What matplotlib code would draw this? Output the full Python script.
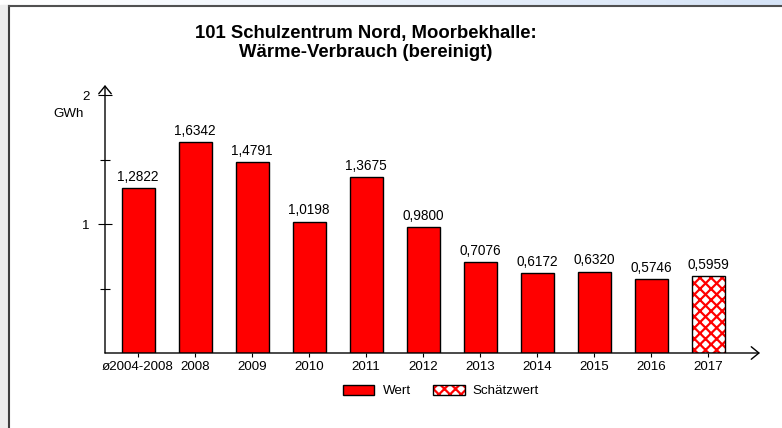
import numpy as np
import matplotlib
matplotlib.use("Agg")
import matplotlib.pyplot as plt
from matplotlib.patches import Patch, Rectangle
from matplotlib.legend_handler import HandlerTuple
from matplotlib.lines import Line2D

plt.rcParams['font.family'] = ['Liberation Sans', 'DejaVu Sans']
plt.rcParams['hatch.linewidth'] = 1.6

# data
categories = ["ø2004-2008", "2008", "2009", "2010", "2011", "2012",
              "2013", "2014", "2015", "2016", "2017"]
values = [1.2822, 1.6342, 1.4791, 1.0198, 1.3675, 0.9800,
          0.7076, 0.6172, 0.6320, 0.5746, 0.5959]
estimated = [False] * 10 + [True]
labels = [f"{v:.4f}".replace(".", ",") for v in values]

W, H = 782, 428
fig = plt.figure(figsize=(W / 100, H / 100), dpi=100)
fig.patch.set_facecolor("white")

# outer frame: gradient strip on top, grey strip left, dark edges
grad = fig.add_axes([0, 1 - 5 / H, 1, 5 / H])
grad.imshow(np.linspace(0, 1, 256).reshape(1, -1), aspect="auto",
            cmap=matplotlib.colors.LinearSegmentedColormap.from_list("g", ["#ffffff", "#d6e4f7"]))
grad.axis("off")
fig.patches.append(Rectangle((0, 0), 8 / W, 1 - 5 / H, transform=fig.transFigure,
                             color="#eeeeee", zorder=0))
fig.lines.append(Line2D([8.5 / W, 8.5 / W], [0, 1 - 5.5 / H], transform=fig.transFigure,
                        color="#404040", lw=1.5))
fig.lines.append(Line2D([8.5 / W, 1], [1 - 5.5 / H, 1 - 5.5 / H], transform=fig.transFigure,
                        color="#505050", lw=1.5))

# plot area
x0, x1 = 105, 760
y0, y1 = 353, 85
ax = fig.add_axes([x0 / W, (H - y0) / H, (x1 - x0) / W, (y0 - y1) / H])
ax.set_facecolor("none")
ax.set_xlim(-0.58, 10.91)
ax.set_ylim(0, 2.08)

x = np.arange(len(categories))
width = 0.58
for xi, v, est in zip(x, values, estimated):
    if est:
        ax.bar(xi, v, width, color="white", edgecolor="red", hatch="xxx", linewidth=0)
        ax.bar(xi, v, width, fill=False, edgecolor="black", linewidth=1)
    else:
        ax.bar(xi, v, width, color="red", edgecolor="black", linewidth=1)

for xi, v, lab in zip(x, values, labels):
    ax.annotate(lab, (xi, v), xytext=(0, 3), textcoords="offset points",
                ha="center", va="bottom", fontsize=9.8)

for s in ax.spines.values():
    s.set_visible(False)

arrow = dict(arrowstyle="->,head_length=0.55,head_width=0.45", lw=1, color="black",
             shrinkA=0, shrinkB=0)
ax.annotate("", xy=(0, 1), xytext=(0, 0), xycoords="axes fraction", arrowprops=arrow)
ax.annotate("", xy=(1, 0), xytext=(0, 0), xycoords="axes fraction", arrowprops=arrow)

ax.set_xticks(x)
ax.set_xticklabels(categories, fontsize=9.6)
ax.tick_params(axis="x", direction="out", length=3, width=0.8, pad=3)
ax.set_yticks([1, 2])
ax.set_yticklabels(["1", "2"], fontsize=9.6)
ax.set_yticks([0.5, 1.5], minor=True)
ax.tick_params(axis="y", which="major", direction="inout", length=10, width=0.8, pad=6)
ax.tick_params(axis="y", which="minor", direction="inout", length=7, width=0.8)

fig.text(69 / W, 1 - 114 / H, "GWh", ha="center", va="center", fontsize=9.6)

fig.text(366 / W, 1 - 43 / H, "101 Schulzentrum Nord, Moorbekhalle:\nWärme-Verbrauch (bereinigt)",
         ha="center", va="center", fontsize=13.3, fontweight="bold", linespacing=1.2)

h_val = Patch(facecolor="red", edgecolor="black", linewidth=1)
h_est1 = Patch(facecolor="white", edgecolor="red", hatch="xxx", linewidth=0)
h_est2 = Patch(fill=False, edgecolor="black", linewidth=1)
fig.legend([h_val, (h_est1, h_est2)], ["Wert", "Schätzwert"],
           handler_map={tuple: HandlerTuple(ndivide=1, pad=0)},
           loc="center", bbox_to_anchor=(441 / W, 1 - 391 / H), ncol=2, frameon=False,
           fontsize=9.6, handlelength=2.35, handleheight=0.8, handletextpad=0.6,
           columnspacing=1.7)

fig.savefig("out.png", dpi=100, facecolor="white")
